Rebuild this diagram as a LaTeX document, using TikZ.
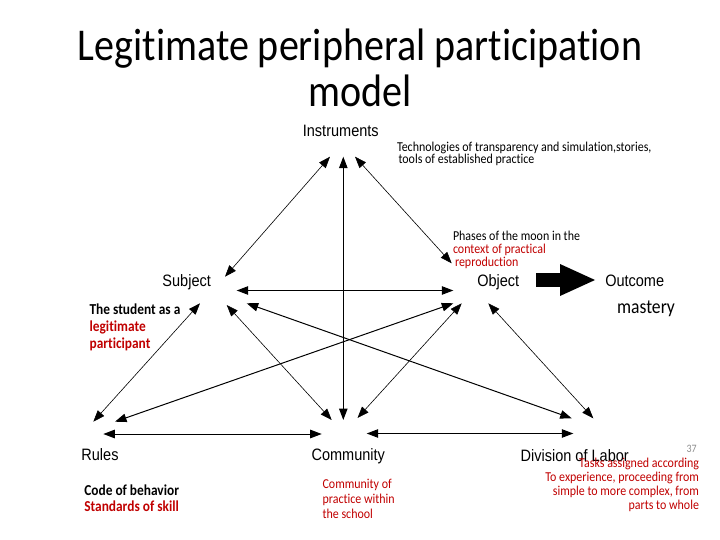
\documentclass[tikz,border=0pt]{standalone}
\usepackage{fontspec}
\setmainfont{Carlito}[FakeStretch=0.88,Ligatures=NoCommon]
\newfontfamily\labfont{Liberation Sans}[FakeStretch=0.88]
\usetikzlibrary{arrows.meta}
\definecolor{notered}{RGB}{192,0,0}

\begin{document}
\begin{tikzpicture}[x=1pt,y=-1pt,line width=0.6pt,>={Triangle[length=11.5pt,width=8.5pt]},
  vlab/.style={font=\labfont\fontsize{16.5}{18}\selectfont,inner sep=0pt,anchor=base},
  note/.style={font=\fontsize{13.6}{#1}\selectfont,inner sep=0pt,align=left,anchor=north west},
  note/.default=13.5,
  bnote/.style={font=\bfseries\fontsize{15.2}{#1}\selectfont,inner sep=0pt,align=left,anchor=north west},
  bnote/.default=16]
  \useasboundingbox (0,0) rectangle (720,540);
  % titulo
  \node[font=\fontsize{45.5}{46}\selectfont,inner sep=0pt,align=center,anchor=north] (title) at (360,28.6)
    {Legitimate peripheral participation\\model};
  % vertices del triangulo
  \node[vlab] (ins) at (340.8,136.7) {Instruments};
  \node[vlab] (sub) at (186.7,286.7) {Subject};
  \node[vlab] (obj) at (498.3,286.7) {Object};
  \node[vlab] (out) at (634.7,286.7) {Outcome};
  \node[vlab] (rul) at (100,460.7) {Rules};
  \node[vlab] (com) at (348.3,460.7) {Community};
  \node[vlab] (div) at (574.7,461) {Division of Labor};
  % puntas de flecha
  \coordinate (ins-s) at (330,156.7);   \coordinate (sub-i) at (225,276.7);
  \coordinate (ins-o) at (355,156.7);   \coordinate (obj-i) at (451.7,263.3);
  \coordinate (ins-c) at (343.3,156.7); \coordinate (com-i) at (343.3,420);
  \coordinate (sub-o) at (236.7,290.5); \coordinate (obj-s) at (453.3,290.5);
  \coordinate (sub-r) at (200,303.3);   \coordinate (rul-s) at (93.3,421.7);
  \coordinate (sub-c) at (226.7,305);   \coordinate (com-s) at (331.7,420);
  \coordinate (sub-d) at (246.7,303.3); \coordinate (div-s) at (571.7,418.3);
  \coordinate (obj-r) at (453.3,303.3); \coordinate (rul-o) at (115,421.7);
  \coordinate (obj-c) at (461.7,303.3); \coordinate (com-o) at (357.5,418);
  \coordinate (obj-d) at (488.3,303.3); \coordinate (div-o) at (593.3,418.3);
  \coordinate (rul-c) at (103.3,434);   \coordinate (com-r) at (321.7,434);
  \coordinate (com-d) at (366.7,433.5); \coordinate (div-c) at (573.3,433.5);
  \coordinate (obj-out) at (536,280);   \coordinate (out-obj) at (595,280);
  \foreach \a/\b in {ins-s/sub-i,ins-o/obj-i,sub-r/rul-s,sub-c/com-s,obj-c/com-o,obj-d/div-o}
    \draw[<->] (\a)--(\b);
  \foreach \a/\b in {ins-c/com-i,sub-o/obj-s,sub-d/div-s,obj-r/rul-o,rul-c/com-r,com-d/div-c}
    \draw[<->,line width=1pt] (\a)--(\b);
  \draw[line width=13.5pt,-{Triangle[length=35pt,width=32pt,line width=0pt]}] (obj-out)--(out-obj);
  % notas
  \node[note=12.3] (tech) at (396.7,141.6)
    {Technologies of transparency and simulation,stories,\\\hspace*{1.5pt}tools of established practice};
  \node[note=13.3] (phases) at (452.7,230.6)
    {Phases of the moon in the\\\textcolor{notered}{context of practical}\\\hspace*{2pt}\textcolor{notered}{reproduction}};
  \node[font=\fontsize{20}{24}\selectfont,inner sep=0pt,anchor=base] (mastery) at (646,313.3) {mastery};
  \node[bnote=16.7] (student) at (89.3,303.8)
    {The student as a\\\textcolor{notered}{legitimate}\\\textcolor{notered}{participant}};
  \node[bnote=16] (code) at (84,484.5) {Code of behavior\\\textcolor{notered}{Standards of skill}};
  \node[note=15,text=notered] (comnote) at (322.3,478.9) {Community of\\practice within\\the school};
  \node[note=14,text=notered,align=right,anchor=north east] (tasks) at (699.3,457.3)
    {Tasks assigned according\\To experience, proceeding from\\simple to more complex, from\\parts to whole};
  \node[font=\fontsize{11.3}{13}\selectfont,text=black!45,inner sep=0pt,anchor=base] (num) at (691.7,452.3) {37};
\end{tikzpicture}
\end{document}
